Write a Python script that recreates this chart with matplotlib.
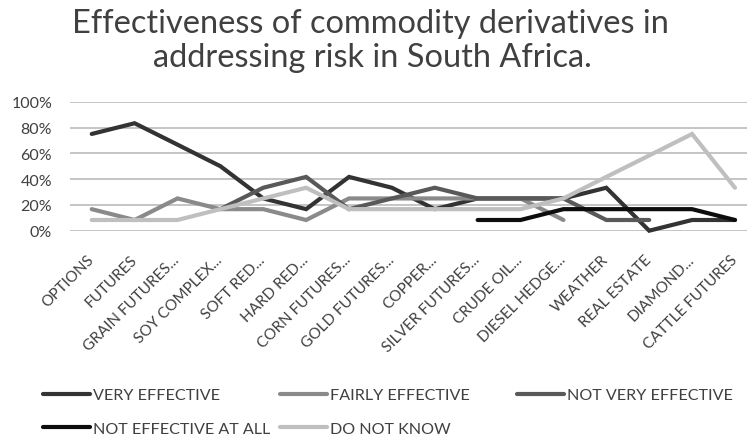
import numpy as np
import matplotlib
matplotlib.use("Agg")
from matplotlib import pyplot as plt
from matplotlib.ticker import PercentFormatter

# data (percent of respondents)
categories = ["OPTIONS", "FUTURES", "GRAIN FUTURES...", "SOY COMPLEX...", "SOFT RED...",
              "HARD RED...", "CORN FUTURES...", "GOLD FUTURES...", "COPPER...",
              "SILVER FUTURES...", "CRUDE OIL...", "DIESEL HEDGE...", "WEATHER",
              "REAL ESTATE", "DIAMOND...", "CATTLE FUTURES"]
nan = np.nan
very_effective = [75, 83.3, 66.7, 50, 25, 16.7, 41.7, 33.3, 16.7, 25, 25, 25, 33.3, 0, 8.3, 8.3]
fairly_effective = [16.7, 8.3, 25, 16.7, 16.7, 8.3, 25, 25, 25, 25, 25, 8.3, nan, nan, nan, nan]
not_very_effective = [nan, nan, nan, 16.7, 33.3, 41.7, 16.7, 25, 33.3, 25, 25, 25, 8.3, 8.3, nan, nan]
not_effective_at_all = [nan, nan, nan, nan, nan, nan, nan, nan, nan, 8.3, 8.3, 16.7, 16.7, 16.7, 16.7, 8.3]
do_not_know = [8.3, 8.3, 8.3, 16.7, 25, 33.3, 16.7, 16.7, 16.7, 16.7, 16.7, 25, 41.7, 58.3, 75, 33.3]

series = [("VERY EFFECTIVE", very_effective, "#333333"),
          ("FAIRLY EFFECTIVE", fairly_effective, "#8a8a8a"),
          ("NOT VERY EFFECTIVE", not_very_effective, "#595959"),
          ("NOT EFFECTIVE AT ALL", not_effective_at_all, "#0d0d0d"),
          ("DO NOT KNOW", do_not_know, "#bfbfbf")]

W, H = 747, 439
fig = plt.figure(figsize=(W / 100, H / 100), dpi=100)
ax = fig.add_axes([70.3 / W, 1 - 231.7 / H, (756.4 - 70.3) / W, 129 / H])

x = np.arange(len(categories))
lines = {}
for name, vals, col in series:
    ln, = ax.plot(x, vals, color=col, lw=3, label=name, clip_on=False,
                  solid_joinstyle="miter", solid_capstyle="round", zorder=3)
    lines[name] = ln

ax.set_xlim(-0.5, len(categories) - 0.5)
ax.set_ylim(0, 100)
ax.set_yticks(np.arange(0, 101, 20))
ax.yaxis.set_major_formatter(PercentFormatter(decimals=0))
ax.grid(axis="y", color="#c0c0c0", lw=1.3, zorder=0)
ax.set_axisbelow(True)
for s in ax.spines.values():
    s.set_visible(False)

ax.set_xticks(x)
ax.set_xticklabels(categories, rotation=45, ha="right", va="center",
                   rotation_mode="anchor", fontsize=11, family="Lato", color="#404040")
ax.tick_params(axis="x", length=0, pad=19)
ax.tick_params(axis="y", length=0, pad=13, labelsize=11.5, labelcolor="#404040")
for t in ax.get_yticklabels():
    t.set_family("Lato")

# two-line title, each line placed on its own baseline
fig.text(370 / W, 1 - 33 / H, "Effectiveness of commodity derivatives in",
         ha="center", va="baseline", fontsize=23.4, family="Lato", color="#404040")
fig.text(372 / W, 1 - 67 / H, "addressing risk in South Africa.",
         ha="center", va="baseline", fontsize=23.4, family="Lato", color="#404040")

# legend laid out in three fixed columns like the original
cols = [(43, ["VERY EFFECTIVE", "NOT EFFECTIVE AT ALL"]),
        (280, ["FAIRLY EFFECTIVE", "DO NOT KNOW"]),
        (517, ["NOT VERY EFFECTIVE"])]
for xpos, names in cols:
    fig.legend([lines[n] for n in names], names, loc="upper left",
               bbox_to_anchor=(xpos / W, 1 - 389 / H), frameon=False,
               borderpad=0, borderaxespad=0, handlelength=2.9, handletextpad=0.2,
               labelspacing=1.2, labelcolor="#404040",
               prop={"family": "Lato", "size": 11.6})

fig.savefig("out.png", dpi=100, facecolor="white")
